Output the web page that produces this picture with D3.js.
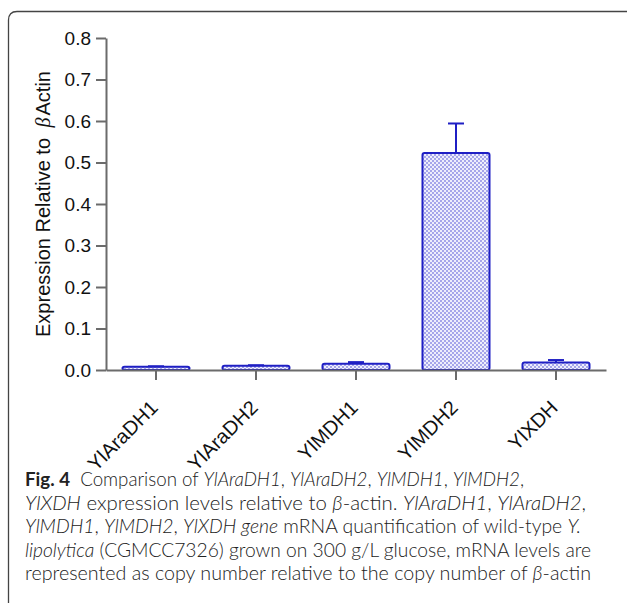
<!DOCTYPE html>
<html>
<head>
<meta charset="utf-8">
<script src="https://cdn.jsdelivr.net/npm/d3@7"></script>
<style>
  html, body { margin: 0; padding: 0; background: #fff; }
  svg { display: block; }
</style>
</head>
<body>
<div id="chart"></div>
<script>
const categories = ['YlAraDH1', 'YlAraDH2', 'YlMDH1', 'YlMDH2', 'YlXDH']
const means = [0.008, 0.0105, 0.015, 0.523, 0.018]
const errors = [0.001, 0.001, 0.004, 0.071, 0.006]
const yTicks = [0, 0.1, 0.2, 0.3, 0.4, 0.5, 0.6, 0.7, 0.8]

const width = 627
const height = 603
const AXIS = '#6b6b6b'
const BLUE = '#1f1fc4'
const FONT = '"Liberation Sans", Arial, sans-serif'

const svg = d3
  .select('#chart')
  .append('svg')
  .attr('width', width)
  .attr('height', height)

// dotted bar fill
const pat = svg
  .append('defs')
  .append('pattern')
  .attr('id', 'dots')
  .attr('patternUnits', 'userSpaceOnUse')
  .attr('width', 4)
  .attr('height', 4)
pat.append('rect').attr('width', 4).attr('height', 4).attr('fill', '#eeeefc')
pat.append('rect').attr('width', 2).attr('height', 2).attr('fill', '#a6a6ea')
pat.append('rect').attr('x', 2).attr('y', 2).attr('width', 2).attr('height', 2).attr('fill', '#a6a6ea')

// frame of the figure box
svg
  .append('path')
  .attr('d', 'M8.5,603 L8.5,20 Q8.5,11.5 17,11.5 L627,11.5')
  .attr('fill', 'none')
  .attr('stroke', '#444')
  .attr('stroke-width', 1.3)

const x = d3
  .scaleBand()
  .domain(categories)
  .range([106, 606])
  .paddingInner(0.33)
  .paddingOuter(0.165)

const y = d3.scaleLinear().domain([0, 0.8]).range([370, 38])

const yAxis = g =>
  g
    .attr('transform', 'translate(106,0)')
    .call(
      d3
        .axisLeft(y)
        .tickValues(yTicks)
        .tickFormat(d3.format('.1f'))
        .tickSize(10)
        .tickSizeOuter(0)
        .tickPadding(5)
    )
    .call(g => g.select('.domain').attr('stroke', AXIS).attr('stroke-width', 2))
    .call(g => g.selectAll('.tick line').attr('stroke', AXIS).attr('stroke-width', 2))
    .call(g =>
      g
        .selectAll('.tick text')
        .attr('fill', '#111')
        .style('font', `19px ${FONT}`)
    )

const xAxis = g =>
  g
    .attr('transform', 'translate(0,370)')
    .call(d3.axisBottom(x).tickSize(10).tickSizeOuter(0))
    .call(g => g.select('.domain').attr('stroke', AXIS).attr('stroke-width', 2))
    .call(g => g.selectAll('.tick line').attr('stroke', AXIS).attr('stroke-width', 2))
    .call(g =>
      g
        .selectAll('.tick text')
        .attr('fill', '#111')
        .attr('x', 0)
        .attr('y', 0)
        .attr('dy', 0)
        .attr('transform', 'translate(3,39) rotate(-45)')
        .attr('text-anchor', 'end')
        .style('font', `20px ${FONT}`)
    )

// bars
svg
  .append('g')
  .selectAll('rect')
  .data(categories)
  .join('rect')
  .attr('x', d => x(d))
  .attr('y', (d, i) => y(means[i]))
  .attr('width', x.bandwidth())
  .attr('height', (d, i) => y(0) - y(means[i]))
  .attr('rx', 2)
  .attr('fill', 'url(#dots)')
  .attr('stroke', BLUE)
  .attr('stroke-width', 2)

// error bars (upper only)
const err = svg
  .append('g')
  .attr('stroke', BLUE)
  .attr('stroke-width', 2)
  .selectAll('g')
  .data(categories)
  .join('g')

err
  .append('line')
  .attr('x1', d => x(d) + x.bandwidth() / 2)
  .attr('x2', d => x(d) + x.bandwidth() / 2)
  .attr('y1', (d, i) => y(means[i]))
  .attr('y2', (d, i) => y(means[i] + errors[i]))

err
  .append('line')
  .attr('x1', d => x(d) + x.bandwidth() / 2 - 8)
  .attr('x2', d => x(d) + x.bandwidth() / 2 + 8)
  .attr('y1', (d, i) => y(means[i] + errors[i]))
  .attr('y2', (d, i) => y(means[i] + errors[i]))

svg.append('g').call(xAxis)
svg.append('g').call(yAxis)

// y title
const yTitle = svg
  .append('text')
  .attr('transform', 'translate(50,204) rotate(-90)')
  .attr('text-anchor', 'middle')
  .attr('fill', '#111')
  .style('font', `20px ${FONT}`)
yTitle.append('tspan').text('Expression Relative to ')
yTitle
  .append('tspan')
  .attr('dx', 5)
  .style('font-family', '"Liberation Serif", "DejaVu Serif", serif')
  .style('font-style', 'italic')
  .text('β')
yTitle.append('tspan').attr('dx', 2).text('Actin')

// caption
const CAP = 'Lato, "Open Sans", sans-serif'
const captionLines = [
  [['b', 'Fig. 4'], ['n', '  Comparison of '], ['i', 'YlAraDH1'], ['n', ', '], ['i', 'YlAraDH2'], ['n', ', '], ['i', 'YlMDH1'], ['n', ', '], ['i', 'YlMDH2'], ['n', ',']],
  [['i', 'YlXDH'], ['n', ' expression levels relative to '], ['i', 'β'], ['n', '-actin. '], ['i', 'YlAraDH1'], ['n', ', '], ['i', 'YlAraDH2'], ['n', ',']],
  [['i', 'YlMDH1'], ['n', ', '], ['i', 'YlMDH2'], ['n', ', '], ['i', 'YlXDH gene'], ['n', ' mRNA quantification of wild-type '], ['i', 'Y.']],
  [['i', 'lipolytica'], ['n', ' (CGMCC7326) grown on 300 g/L glucose, mRNA levels are']],
  [['n', 'represented as copy number relative to the copy number of '], ['i', 'β'], ['n', '-actin']]
]
const captionWidths = [499, 561, 556, 566, 566]
const captionBase = [486, 510, 533, 557, 580]

captionLines.forEach((line, li) => {
  const t = svg
    .append('text')
    .attr('x', 25)
    .attr('y', captionBase[li])
    .attr('textLength', captionWidths[li])
    .attr('lengthAdjust', 'spacingAndGlyphs')
    .attr('fill', '#222')
    .style('font-family', CAP)
    .style('font-size', '19px')
    .style('font-weight', 300)
    .style('white-space', 'pre')
  line.forEach(([k, s]) => {
    const ts = t.append('tspan').text(s)
    if (k === 'b') ts.style('font-weight', 700)
    if (k === 'i') ts.style('font-style', 'italic')
  })
})
</script>
</body>
</html>
